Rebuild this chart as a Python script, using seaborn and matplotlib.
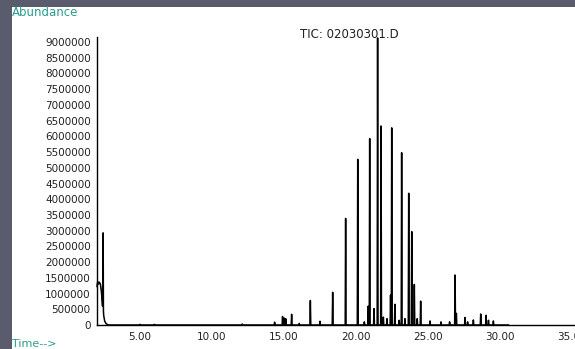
import numpy as np
import pandas as pd
import matplotlib
matplotlib.use("Agg")
import matplotlib.pyplot as plt
from matplotlib.ticker import MultipleLocator, FormatStrFormatter, FuncFormatter
import seaborn as sns

# solvent front (minutes, abundance)
SOLVENT_T = [2.01, 2.06, 2.12, 2.18, 2.25, 2.32, 2.40, 2.44, 2.46, 2.48, 2.55, 2.65, 2.80]
SOLVENT_A = [1.22e6, 1.38e6, 1.30e6, 1.36e6, 1.30e6, 1.05e6, 0.60e6, 2.93e6, 0.45e6,
             0.30e6, 0.12e6, 0.04e6, 0.0]

# retention times of the peaks and their apex abundance
PEAK_T = [5.00, 6.00, 12.10, 14.35, 14.90, 15.02, 15.12, 15.53, 16.06, 16.83, 17.50,
          18.38, 19.28, 20.12, 20.58, 20.85, 20.95, 21.25, 21.50, 21.74, 21.90, 22.15,
          22.40, 22.48, 22.70, 23.00, 23.17, 23.40, 23.66, 23.87, 24.05, 24.25, 24.49,
          25.14, 25.90, 26.50, 26.88, 26.97, 27.57, 27.75, 28.15, 28.66, 29.03, 29.20,
          29.54]
PEAK_A = [0.02e6, 0.02e6, 0.03e6, 0.09e6, 0.27e6, 0.22e6, 0.20e6, 0.34e6, 0.05e6,
          0.78e6, 0.12e6, 1.04e6, 3.39e6, 5.27e6, 0.10e6, 0.60e6, 5.93e6, 0.52e6,
          9.13e6, 6.33e6, 0.25e6, 0.20e6, 0.95e6, 6.27e6, 0.66e6, 0.15e6, 5.48e6,
          0.20e6, 4.19e6, 2.97e6, 1.29e6, 0.20e6, 0.76e6, 0.13e6, 0.10e6, 0.10e6,
          1.59e6, 0.37e6, 0.24e6, 0.10e6, 0.16e6, 0.35e6, 0.31e6, 0.15e6, 0.13e6]
RUN_END = 30.6
PEAK_HALF_WIDTH = 0.03

TITLE = "TIC: 02030301.D"
BG = "#5a5b6c"
TEAL = "#2a9d8f"

# chromatogram trace table: solvent front, then each peak as base-apex-base
rows = list(zip(SOLVENT_T, SOLVENT_A))
for t, a in zip(PEAK_T, PEAK_A):
    rows += [(t - PEAK_HALF_WIDTH, 0.0), (t, a), (t + PEAK_HALF_WIDTH, 0.0)]
rows.append((RUN_END, 0.0))
trace = pd.DataFrame(rows, columns=["time", "abundance"]).sort_values("time")

sns.set_style("white")
plt.rcParams["font.family"] = ["DejaVu Sans"]

W, H = 575, 349
fig = plt.figure(figsize=(W / 100, H / 100), dpi=100)
fig.patch.set_facecolor(BG)

# white page behind the plot
page = fig.add_axes([12 / W, 0, 1 - 12 / W, 1 - 7 / H], zorder=-5)
page.set_axis_off()
page.add_patch(plt.Rectangle((0, 0), 1, 1, transform=page.transAxes,
                             facecolor="white", edgecolor="none"))

# axes: x=0 min at 68 px, 14.4 px/min; y=0 at 325 px, 31.44 px per million
x0, ppm = 68.0, 14.4
xmin, xmax = 2.01, 36.0
ymax = 9.15e6
left_px = x0 + xmin * ppm
right_px = x0 + xmax * ppm
top_px = 325 - ymax / 1e6 * 31.44
ax = fig.add_axes([left_px / W, (H - 325) / H, (right_px - left_px) / W, (325 - top_px) / H])
ax.set_facecolor("none")

sns.lineplot(data=trace, x="time", y="abundance", color="black", lw=1.1,
             estimator=None, sort=False, ax=ax, clip_on=False)

ax.set_xlim(xmin, xmax)
ax.set_ylim(0, ymax)
ax.set_xlabel("")
ax.set_ylabel("")
for s in ["top", "right"]:
    ax.spines[s].set_visible(False)
for s in ["left", "bottom"]:
    ax.spines[s].set_color("black")
    ax.spines[s].set_linewidth(1.0)

ax.xaxis.set_major_locator(MultipleLocator(5))
ax.xaxis.set_minor_locator(MultipleLocator(1))
ax.xaxis.set_major_formatter(FormatStrFormatter("%.2f"))
ax.yaxis.set_major_locator(MultipleLocator(500000))
ax.yaxis.set_minor_locator(MultipleLocator(100000))
ax.yaxis.set_major_formatter(FuncFormatter(lambda v, p: f"{int(round(v))}"))
ax.tick_params(which="major", direction="out", length=3, width=0.8, colors="black",
               labelsize=7.5, labelcolor="#222222", pad=1.5)
ax.tick_params(which="minor", direction="out", length=1.5, width=0.6, colors="black")
ax.tick_params(axis="x", pad=2)

fig.text(349 / W, 1 - 35 / H, TITLE, ha="center", va="center", fontsize=8.5, color="#222222")
fig.text(12 / W, 1 - 12 / H, "Abundance", ha="left", va="center", fontsize=8.5, color=TEAL)
fig.text(12 / W, 1 - 344 / H, "Time-->", ha="left", va="center", fontsize=8, color=TEAL)

fig.savefig("out.png", dpi=100, facecolor=BG)
